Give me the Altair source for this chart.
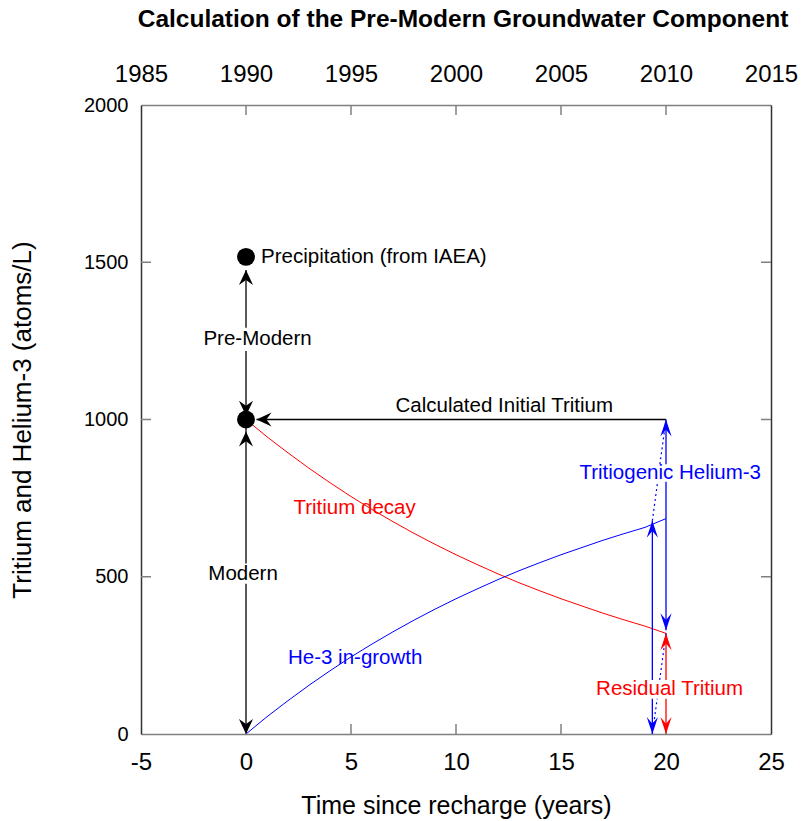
import altair as alt
import pandas as pd

FONT = "Liberation Sans"

# ---- data ----
years_since = list(range(0, 21))
tritium = [1000, 945, 894, 845, 799, 755, 714, 675, 638, 603, 570, 539, 509,
           481, 455, 430, 407, 384, 363, 343, 320]
helium3 = [0, 55, 106, 155, 201, 245, 286, 325, 362, 397, 430, 461, 491,
           519, 545, 570, 593, 616, 637, 657, 685]

x_ticks = [-5, 0, 5, 10, 15, 20, 25]
year_ticks = [1985, 1990, 1995, 2000, 2005, 2010, 2015]
y_ticks = [0, 500, 1000, 1500, 2000]

dot_x = [0, 0]
dot_y = [1517, 1000]

# line segments: x1, y1, x2, y2, series
seg_x1 = [0, 0, 0, 0, 0.5, 19.35, 19.35, 20, 20, 20, 20]
seg_y1 = [1000, 1292, 0, 542, 1000, 0, 172, 330, 858, 0, 172]
seg_x2 = [0, 0, 0, 0, 20, 19.35, 19.35, 20, 20, 20, 20]
seg_y2 = [1218, 1475, 478, 1000, 1000, 112, 678, 802, 1000, 112, 320]
seg_kind = ["guide", "guide", "guide", "guide", "guide",
            "helium", "helium", "helium", "helium", "tritium", "tritium"]

# dotted connectors
dot_x1 = [19.35, 19.70, 19.35, 19.71]
dot_y1 = [0, 172, 678, 858]
dot_x2 = [19.58, 20, 19.60, 20]
dot_y2 = [112, 320, 802, 1000]

# arrow heads (tip position, direction)
arr_x = [0, 0, 0, 0, 0.5]
arr_y = [1475, 1012, 962, 0, 1000]
arr_dir = [0, 180, 0, 180, 270]

carr_x = [19.35, 19.35, 20, 20, 20, 20]
carr_y = [678, 0, 1000, 330, 320, 0]
carr_dir = [0, 180, 0, 180, 0, 180]
carr_kind = ["helium", "helium", "helium", "helium", "tritium", "tritium"]

lab_text = ["Precipitation (from IAEA)", "Pre-Modern", "Modern",
            "Calculated Initial Tritium", "Tritium decay", "He-3 in-growth",
            "Tritiogenic Helium-3", "Residual Tritium"]
lab_x = [0.72, 0.55, -0.14, 12.3, 5.17, 5.2, 20.2, 20.17]
lab_y = [1517, 1256, 509, 1043, 719, 242, 830, 143]
lab_kind = ["guide", "guide", "guide", "guide", "tritium", "helium",
            "helium", "tritium"]
lab_align_left = ["Precipitation (from IAEA)"]

kinds = ["guide", "tritium", "helium"]
kind_colors = ["#000000", "#ff0000", "#0000ff"]
kscale = alt.Scale(domain=kinds, range=kind_colors)

W, H = 630, 629
xs = alt.Scale(domain=[-5, 25], nice=False, zero=False)
ys = alt.Scale(domain=[0, 2000], nice=False)

curves = pd.DataFrame({
    "t": years_since * 2,
    "v": tritium + helium3,
    "kind": ["tritium"] * len(tritium) + ["helium"] * len(helium3),
})
segs = pd.DataFrame({"x1": seg_x1, "y1": seg_y1, "x2": seg_x2, "y2": seg_y2, "kind": seg_kind})
dots = pd.DataFrame({"x1": dot_x1, "y1": dot_y1, "x2": dot_x2, "y2": dot_y2})
arrows = pd.DataFrame({"x": arr_x, "y": arr_y, "a": arr_dir})
carrows = pd.DataFrame({"x": carr_x, "y": carr_y, "a": carr_dir, "kind": carr_kind})
pts = pd.DataFrame({"x": dot_x, "y": dot_y})
labs = pd.DataFrame({"text": lab_text, "x": lab_x, "y": lab_y, "kind": lab_kind})
labs["left"] = labs["text"].isin(lab_align_left)

X = lambda f, **kw: alt.X(f, scale=xs, **kw)
Y = lambda f, **kw: alt.Y(f, scale=ys, **kw)

base_x_axis = alt.Axis(values=x_ticks, ticks=False, tickSize=0, grid=False,
                       labelFontSize=24, labelPadding=16, labelColor="#000",
                       labelFlush=False,
                       labelExpr="replace(datum.label, '\u2212', '-')",
                       domainColor="#808080", domainWidth=1.5,
                       title="Time since recharge (years)", titleFontSize=25,
                       titleFontWeight="normal", titleColor="#000",
                       titleY=71, titleBaseline="middle")
base_y_axis = alt.Axis(values=y_ticks, format="d", ticks=False, tickSize=0, grid=False,
                       labelFontSize=20, labelPadding=13, labelColor="#000",
                       domainColor="#333333", domainWidth=1.5,
                       title="Tritium and Helium-3 (atoms/L)", titleFontSize=26,
                       titleFontWeight="normal", titleColor="#000",
                       titleX=-119, titleY=H / 2, titleBaseline="middle",
                       titleAlign="center", titleAngle=-90)

curve_layer = alt.Chart(curves).mark_line(strokeWidth=1).encode(
    x=X("t:Q", axis=base_x_axis),
    y=Y("v:Q", axis=base_y_axis),
    color=alt.Color("kind:N", scale=kscale, legend=None),
    detail="kind:N",
)

seg_layer = alt.Chart(segs).mark_rule(strokeWidth=1.3).encode(
    x=X("x1:Q"), y=Y("y1:Q"), x2="x2:Q", y2="y2:Q",
    color=alt.Color("kind:N", scale=kscale, legend=None),
)

dot_layer = alt.Chart(dots).mark_rule(strokeWidth=1.2, strokeDash=[2, 3], color="#0000ff").encode(
    x=X("x1:Q"), y=Y("y1:Q"), x2="x2:Q", y2="y2:Q",
)

BLACK_HEAD = "M0,0 L0.47,1 L0,0.66 L-0.47,1 Z"
COLOR_HEAD = "M0,0 L0.33,1 L0,0.6 L-0.33,1 Z"

arrow_layer = alt.Chart(arrows).mark_point(
    shape=BLACK_HEAD, filled=True, size=900, opacity=1, color="#000", strokeWidth=0
).encode(x=X("x:Q"), y=Y("y:Q"), angle=alt.Angle("a:Q", scale=None))

carrow_layer = alt.Chart(carrows).mark_point(
    shape=COLOR_HEAD, filled=True, size=1156, opacity=1, strokeWidth=0
).encode(x=X("x:Q"), y=Y("y:Q"), angle=alt.Angle("a:Q", scale=None),
         color=alt.Color("kind:N", scale=kscale, legend=None))

pt_layer = alt.Chart(pts).mark_point(
    shape="circle", filled=True, size=320, opacity=1, color="#000"
).encode(x=X("x:Q"), y=Y("y:Q"))

text_c = alt.Chart(labs).transform_filter("!datum.left").mark_text(
    fontSize=20.5, font=FONT, align="center", baseline="middle"
).encode(x=X("x:Q"), y=Y("y:Q"), text="text:N",
         color=alt.Color("kind:N", scale=kscale, legend=None))
text_l = alt.Chart(labs).transform_filter("datum.left").mark_text(
    fontSize=20.5, font=FONT, align="left", baseline="middle"
).encode(x=X("x:Q"), y=Y("y:Q"), text="text:N",
         color=alt.Color("kind:N", scale=kscale, legend=None))

# inward tick marks
bt = pd.DataFrame({"v": x_ticks[1:-1]})
lt = pd.DataFrame({"v": y_ticks[1:-1]})
tick_b = alt.Chart(bt).mark_rule(color="#808080", strokeWidth=1.5).encode(
    x=X("v:Q"), y=alt.value(H), y2=alt.value(H - 10))
tick_t = alt.Chart(bt).mark_rule(color="#808080", strokeWidth=1.5).encode(
    x=X("v:Q"), y=alt.value(0), y2=alt.value(10))
tick_l = alt.Chart(lt).mark_rule(color="#808080", strokeWidth=1.5).encode(
    y=Y("v:Q"), x=alt.value(0), x2=alt.value(10))
tick_r = alt.Chart(lt).mark_rule(color="#808080", strokeWidth=1.5).encode(
    y=Y("v:Q"), x=alt.value(W), x2=alt.value(W - 10))

main = alt.layer(curve_layer, seg_layer, dot_layer, tick_b, tick_t, tick_l, tick_r,
                 pt_layer, arrow_layer, carrow_layer, text_c, text_l)

aux_df = pd.DataFrame({"year": year_ticks, "v": [0] * len(year_ticks)})
aux = alt.Chart(aux_df).mark_point(opacity=0).encode(
    x=alt.X("year:Q", scale=alt.Scale(domain=[1985, 2015], nice=False, zero=False),
            axis=alt.Axis(orient="top", values=year_ticks, format="d", ticks=False,
                          tickSize=0, grid=False, labelFontSize=24, labelPadding=19,
                          labelFlush=False,
                          labelColor="#000", domainColor="#808080", domainWidth=1.5,
                          title=None)),
    y=alt.Y("v:Q", scale=alt.Scale(domain=[0, 2000], nice=False),
            axis=alt.Axis(orient="right", labels=False, ticks=False, tickSize=0,
                          grid=False, domainColor="#333333", domainWidth=1.5,
                          title=None)),
)

chart = alt.layer(main, aux).resolve_scale(x="independent", y="independent").properties(
    width=W, height=H,
    title=alt.TitleParams("Calculation of the Pre-Modern Groundwater Component",
                          fontSize=24.5, font=FONT, fontWeight="bold", color="#000",
                          anchor="middle", offset=30, dx=7),
    autosize=alt.AutoSizeParams(type="none"),
    padding={"left": 141, "top": 105, "right": 30, "bottom": 87},
).configure(font=FONT, background="white").configure_view(stroke=None)

chart.save("out.html", embed_options={"renderer": "svg", "actions": False})
